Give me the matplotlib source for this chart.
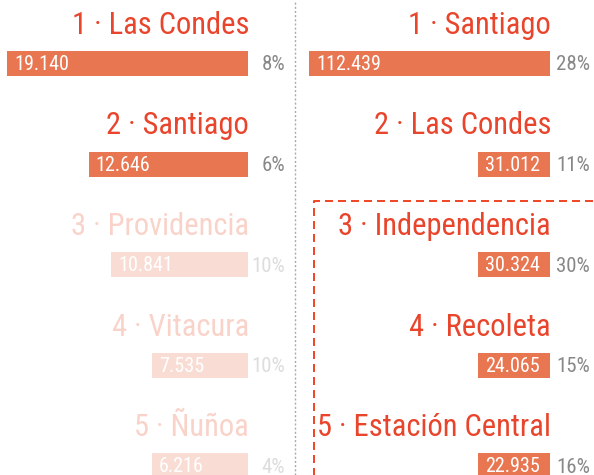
import matplotlib
matplotlib.use("Agg")
import matplotlib.pyplot as plt
from matplotlib import transforms, font_manager
from matplotlib.lines import Line2D
import numpy as np

# Arial Narrow look-alike: take the first one that is installed
installed = {f.name for f in font_manager.fontManager.ttflist}
narrow = [n for n in ["Liberation Sans Narrow", "Arimo Narrow", "Roboto Condensed",
                      "Archivo Narrow", "PT Sans Narrow", "Liberation Sans"] if n in installed]
plt.rcParams['font.family'] = narrow[:1] + ['DejaVu Sans']

# left ranking
left_names = ["Las Condes", "Santiago", "Providencia", "Vitacura", "Ñuñoa"]
left_values = [19140, 12646, 10841, 7535, 6216]
left_pct = [8, 6, 10, 10, 4]
left_faded = [False, False, True, True, True]

# right ranking
right_names = ["Santiago", "Las Condes", "Independencia", "Recoleta", "Estación Central"]
right_values = [112439, 31012, 30324, 24065, 22935]
right_pct = [28, 11, 30, 15, 16]
right_faded = [False, False, False, False, False]

W, H = 594, 475
ROW = 100.5   # px between rows
TOP = 63.5    # px from top to first bar centre

TITLE_C = "#e8452c"
BAR_C = "#e87651"
PCT_C = "#888888"
TITLE_F = "#f9d3ca"
BAR_F = "#f9ddd4"
PCT_F = "#dddddd"

fig = plt.figure(figsize=(W / 100, H / 100), dpi=100)


def fmt(v):
    return f"{v:,}".replace(",", ".")


def column(x0, x1, names, values, pct, faded, min_px, title_x, pct_x):
    ax = fig.add_axes([x0 / W, 0, (x1 - x0) / W, 1])
    ax.set_axis_off()
    vmax = max(values)
    ax.set_xlim(vmax, 0)  # bars grow leftwards from the right edge
    ax.set_ylim((H - TOP) / ROW, -TOP / ROW)
    floor = min_px / (x1 - x0) * vmax
    shown = np.maximum(values, floor)
    y = np.arange(len(values))
    cols = [BAR_F if f else BAR_C for f in faded]
    ax.barh(y, shown, height=25 / ROW, color=cols)
    tr = transforms.blended_transform_factory(fig.transFigure, ax.transData)
    for i in range(len(values)):
        f = faded[i]
        ax.text(title_x / W, i - 29.5 / ROW, f"{i + 1} · {names[i]}", transform=tr,
                ha="right", va="baseline", fontsize=22,
                color=TITLE_F if f else TITLE_C)
        ax.annotate(fmt(values[i]), xy=(shown[i], i), xytext=(5, -5),
                    textcoords="offset points", ha="left", va="baseline",
                    fontsize=14.5, color="white")
        ax.text(pct_x / W, i + 7 / ROW, f"{pct[i]}%", transform=tr,
                ha="right", va="baseline", fontsize=15,
                color=PCT_F if f else PCT_C)
    return ax


column(7, 248, left_names, left_values, left_pct, left_faded, 96, 249, 285)
column(309, 550, right_names, right_values, right_pct, right_faded, 72, 551, 590)

# dotted divider
fig.add_artist(Line2D([295 / W, 295 / W], [0, 1], transform=fig.transFigure,
                      color="#aaaaaa", lw=1, linestyle=(0, (1.5, 1.5))))

# dashed highlight box around 3-5 on the right
fig.add_artist(Line2D([314 / W, 314 / W, 1.02], [-0.02, 1 - 201 / H, 1 - 201 / H],
                      transform=fig.transFigure, color="#ee4a2a", lw=1.44,
                      dashes=(4, 2.5)))

fig.savefig("out.png", dpi=100)
